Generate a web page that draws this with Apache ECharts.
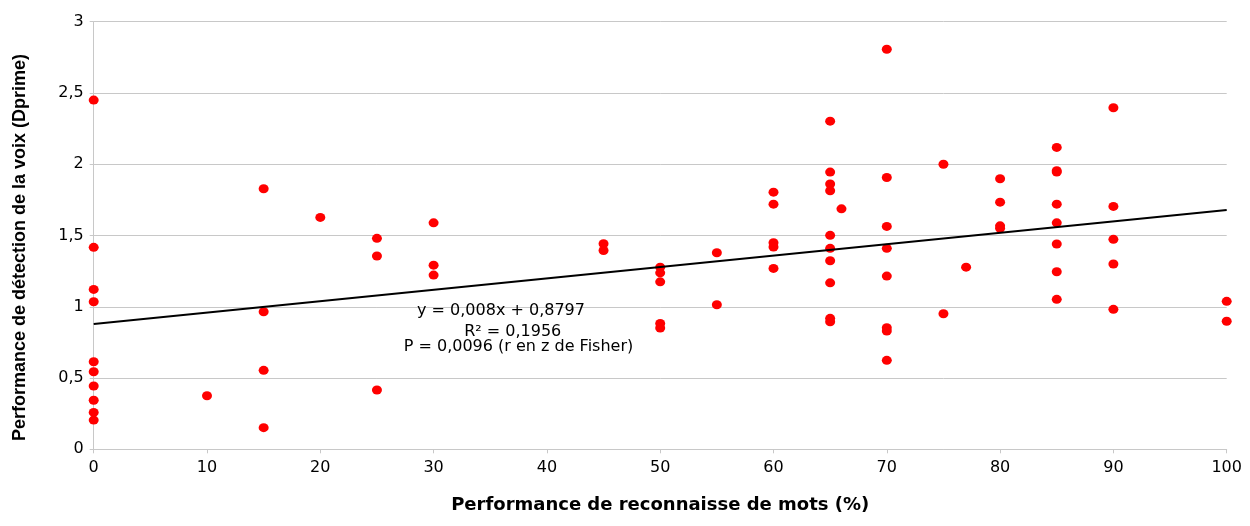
<!DOCTYPE html>
<html>
<head>
<meta charset="utf-8">
<script src="https://cdn.jsdelivr.net/npm/echarts@6/dist/echarts.min.js"></script>
<style>
html,body{margin:0;padding:0;background:#fff;}
#chart{width:1250px;height:526px;}
</style>
</head>
<body>
<div id="chart"></div>
<script>
// Word recognition performance (%) for each subject
const xValues = [
  0, 0, 0, 0, 0, 0, 0, 0, 0, 0,
  10,
  15, 15, 15, 15,
  20,
  25, 25, 25,
  30, 30, 30,
  45, 45,
  50, 50, 50, 50, 50,
  55, 55,
  60, 60, 60, 60, 60,
  65, 65, 65, 65, 65, 65, 65, 65, 65, 65,
  66,
  70, 70, 70, 70, 70, 70, 70, 70,
  75, 75,
  77,
  80, 80, 80, 80,
  85, 85, 85, 85, 85, 85, 85, 85,
  90, 90, 90, 90, 90,
  100, 100
];
// Voice detection performance (Dprime) for each subject
const yValues = [
  2.45, 1.417, 1.122, 1.035, 0.614, 0.544, 0.444, 0.344, 0.259, 0.205,
  0.376,
  1.828, 0.965, 0.554, 0.152,
  1.627,
  1.48, 1.356, 0.416,
  1.589, 1.292, 1.222,
  1.442, 1.395,
  1.278, 1.238, 1.175, 0.883, 0.851,
  1.379, 1.014,
  1.804, 1.72, 1.449, 1.419, 1.269,
  2.302, 1.945, 1.861, 1.814, 1.501, 1.41, 1.323, 1.168, 0.919, 0.895,
  1.687,
  2.807, 1.907, 1.564, 1.41, 1.215, 0.853, 0.83, 0.624,
  2.0, 0.951,
  1.278,
  1.898, 1.734, 1.568, 1.55,
  2.118, 1.954, 1.945, 1.72, 1.589, 1.44, 1.246, 1.052,
  2.396, 1.704, 1.473, 1.3, 0.982,
  1.038, 0.898
];
// Linear trend line endpoints (y = 0,008x + 0,8797)
const trendX = [0, 100];
const trendY = [0.8797, 1.6797];
// Axis ticks
const xTicks = { min: 0, max: 100, step: 10 };
const yTicks = { min: 0, max: 3, step: 0.5 };
// Texts
const xTitle = 'Performance de reconnaisse de mots (%)';
const yTitle = 'Performance de détection de la voix (Dprime)';
const annotLines = ['y = 0,008x + 0,8797', 'R² = 0,1956', 'P = 0,0096 (r en z de Fisher)'];

const points = xValues.map((x, i) => [x, yValues[i]]);
const trend = trendX.map((x, i) => [x, trendY[i]]);

const FONT = 'DejaVu Sans';
const chart = echarts.init(document.getElementById('chart'), null, {renderer: 'canvas'});

const annotPos = [[501, 311], [512.7, 332], [518.5, 347]];

chart.setOption({
  animation: false,
  backgroundColor: '#ffffff',
  grid: {left: 93.7, right: 23.3, top: 21.7, bottom: 76.7, containLabel: false},
  xAxis: {
    type: 'value',
    min: xTicks.min, max: xTicks.max, interval: xTicks.step,
    name: xTitle,
    nameLocation: 'middle',
    nameGap: 47,
    nameTextStyle: {fontFamily: FONT, fontWeight: 'bold', fontSize: 18, color: '#000'},
    axisLine: {show: true, onZero: false, lineStyle: {color: '#c8c8c8', width: 1}},
    axisTick: {show: true, inside: false, length: 4, lineStyle: {color: '#c8c8c8'}},
    axisLabel: {fontFamily: FONT, fontSize: 16, color: '#000', margin: 11},
    splitLine: {show: false}
  },
  yAxis: {
    type: 'value',
    min: yTicks.min, max: yTicks.max, interval: yTicks.step,
    axisLine: {show: true, lineStyle: {color: '#c8c8c8', width: 1}},
    axisTick: {show: true, inside: false, length: 4, lineStyle: {color: '#c8c8c8'}},
    axisLabel: {
      fontFamily: FONT, fontSize: 16, color: '#000', margin: 10,
      formatter: v => String(v).replace('.', ',')
    },
    splitLine: {show: true, lineStyle: {color: '#c8c8c8', width: 1}}
  },
  series: [
    {
      type: 'scatter',
      data: points,
      symbol: 'circle',
      symbolSize: [10, 9],
      itemStyle: {color: '#ff0000', opacity: 1},
      z: 2
    },
    {
      type: 'line',
      data: trend,
      symbol: 'none',
      lineStyle: {color: '#000000', width: 2},
      z: 3
    }
  ],
  graphic: [
    {
      type: 'text',
      x: 20, y: 247.5,
      rotation: Math.PI / 2,
      style: {
        text: yTitle,
        font: 'bold 18px "Liberation Sans"',
        fill: '#000',
        textAlign: 'center', textVerticalAlign: 'middle'
      }
    }
  ].concat(annotLines.map((t, i) => ({
    type: 'text',
    x: annotPos[i][0], y: annotPos[i][1],
    z: 10,
    style: {
      text: t,
      font: '16px "DejaVu Sans"',
      fill: '#000',
      textAlign: 'center', textVerticalAlign: 'middle'
    }
  })))
});
</script>
</body>
</html>
